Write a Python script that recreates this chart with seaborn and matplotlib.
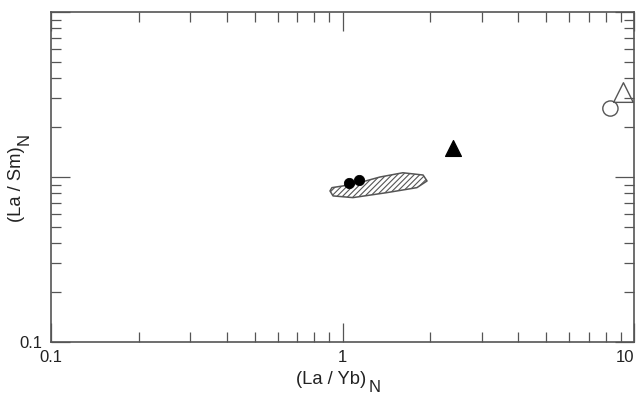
import numpy as np
import pandas as pd
import matplotlib
matplotlib.use("Agg")
import matplotlib.pyplot as plt
import seaborn as sns
from matplotlib.ticker import LogLocator, NullFormatter, FixedFormatter, FixedLocator

# Data
la_yb = [1.05, 1.14, 2.39, 8.3, 9.2]
la_sm = [0.92, 0.96, 1.5, 2.6, 3.25]
group = ["dot", "dot", "tri_f", "circ_o", "tri_o"]

# outline of the hatched field
field_x = [0.906, 0.928, 1.086, 1.42, 1.80, 1.95, 1.89, 1.61, 1.345, 1.176, 1.004, 0.920]
field_y = [0.823, 0.768, 0.750, 0.804, 0.862, 0.946, 1.028, 1.061, 1.0, 0.937, 0.883, 0.862]

df = pd.DataFrame({"la_yb": la_yb, "la_sm": la_sm, "group": group})

sns.set_style("ticks")
plt.rcParams["font.family"] = ["Liberation Sans", "DejaVu Sans"]
plt.rcParams["hatch.color"] = "#888888"
plt.rcParams["hatch.linewidth"] = 0.8

W, H = 638, 398
fig = plt.figure(figsize=(W / 100, H / 100), dpi=100)
ax = fig.add_axes([51 / W, 56 / H, 583 / W, 330 / H])

ax.fill(field_x, field_y, facecolor="white", edgecolor="#555555",
        hatch="//////", linewidth=1.1, joinstyle="round", zorder=2)

styles = {
    "dot": dict(marker="o", s=55, color="black", edgecolor="black"),
    "tri_f": dict(marker="^", s=130, color="black", edgecolor="black"),
    "circ_o": dict(marker="o", s=120, facecolor="none", edgecolor="#555555", linewidth=1.0),
    "tri_o": dict(marker="^", s=200, facecolor="none", edgecolor="#555555", linewidth=1.0),
}
for g, kw in styles.items():
    sub = df[df["group"] == g]
    sns.scatterplot(data=sub, x="la_yb", y="la_sm", ax=ax, legend=False, zorder=3, **kw)

ax.set_xscale("log")
ax.set_yscale("log")
ax.set_xlim(0.1, 10)
ax.set_ylim(0.1, 10)

ax.xaxis.set_major_locator(FixedLocator([0.1, 1, 10]))
ax.xaxis.set_major_formatter(FixedFormatter(["0.1", "1", "10"]))
ax.yaxis.set_major_locator(FixedLocator([0.1, 1, 10]))
ax.yaxis.set_major_formatter(FixedFormatter(["0.1", "", ""]))
ax.xaxis.set_minor_locator(LogLocator(base=10, subs=np.arange(2, 10)))
ax.yaxis.set_minor_locator(LogLocator(base=10, subs=np.arange(2, 10)))
ax.xaxis.set_minor_formatter(NullFormatter())
ax.yaxis.set_minor_formatter(NullFormatter())

ax.tick_params(which="both", direction="in", top=True, right=True, colors="#555555",
               labelcolor="#222222", labelsize=12, width=0.9)
ax.tick_params(which="major", length=14, pad=6)
ax.tick_params(which="minor", length=7)

for sp in ax.spines.values():
    sp.set_color("#555555")
    sp.set_linewidth(1.2)

fig.canvas.draw()
ax.get_xticklabels()[-1].set_horizontalalignment("right")
ax.get_xticklabels()[-1].set_x(10)
ax.set_xlabel("")
ax.set_ylabel("")

# axis titles with a large, lowered subscript N
lab = dict(color="#222222", fontsize=13.2)
sub_n = dict(color="#222222", fontsize=12)
fig.text(366 / W, (H - 384) / H, "(La / Yb)", ha="right", va="baseline", **lab)
fig.text(369 / W, (H - 392) / H, "N", ha="left", va="baseline", **sub_n)
fig.text(21 / W, (H - 222) / H, "(La / Sm)", rotation=90, rotation_mode="anchor",
         ha="left", va="baseline", **lab)
fig.text(29 / W, (H - 145) / H, "N", rotation=90, rotation_mode="anchor",
         ha="left", va="baseline", **sub_n)

fig.savefig("out.png", dpi=100)
